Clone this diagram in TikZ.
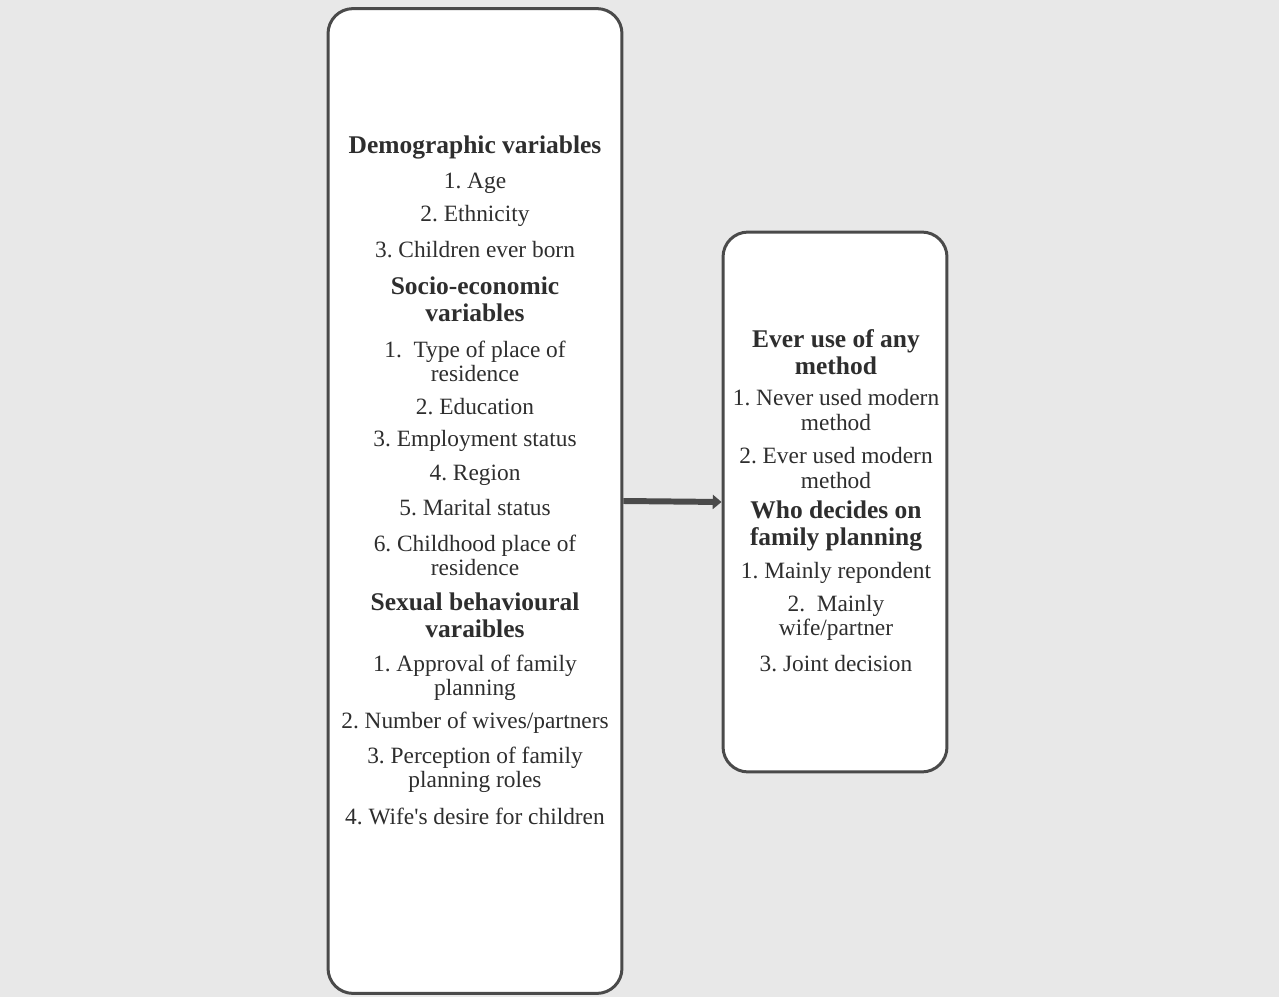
\documentclass[tikz,border=0pt]{standalone}
\usepackage{fontspec}
\setmainfont{Liberation Serif}
\usetikzlibrary{arrows.meta, positioning}
\definecolor{scan}{HTML}{E8E8E8}
\definecolor{ink}{HTML}{2E2E2E}
\definecolor{rim}{HTML}{4A4A4A}
\frenchspacing

\begin{document}
\begin{tikzpicture}[x=0.02cm, y=-0.02cm,
  frame/.style={draw=rim, line width=1.7pt, fill=white, rounded corners=0.5cm},
  head/.style={text=ink, align=center, font=\fontsize{14.5}{15.4}\selectfont\bfseries},
  item/.style={text=ink, align=center, font=\fontsize{13.3}{13.7}\selectfont}]
  \fill[scan] (0,0) rectangle (1279,997);
  \useasboundingbox (0,0) rectangle (1279,997);

  % the two boxes
  \node[frame, minimum width=5.88cm, minimum height=19.7cm] (predictors) at (475,501) {};
  \node[frame, minimum width=4.48cm, minimum height=10.8cm] (outcome) at (835,502) {};
  \draw[rim, line width=3.4pt, -{Triangle[length=5pt,width=8pt]}] (predictors.east) -- (outcome.west);

  % explanatory variables
  \node[head] (demohead) at (475,147) {Demographic variables};
  \node[item] (age) at (475,183) {1. Age};
  \node[item] (ethnic) at (475,216) {2. Ethnicity};
  \node[item] (ceb) at (475,250) {3. Children ever born};
  \node[head] (sochead) at (475,299) {Socio-economic\\variables};
  \node[item] (residence) at (475,361) {1.\ \ Type of place of\\residence};
  \node[item] (educ) at (475,407) {2. Education};
  \node[item] (employ) at (475,441) {3. Employment status};
  \node[item] (region) at (475,475) {4. Region};
  \node[item] (marital) at (475,508) {5. Marital status};
  \node[item] (childhood) at (475,555) {6. Childhood place of\\residence};
  \node[head] (sexhead) at (475,615) {Sexual behavioural\\varaibles};
  \node[item] (approval) at (475,678) {1. Approval of family\\planning};
  \node[item] (wives) at (475,723) {2. Number of wives/partners};
  \node[item] (perception) at (475,770) {3. Perception of family\\planning roles};
  \node[item] (desire) at (475,816) {4. Wife\textquotesingle s desire for children};

  % outcome variables
  \node[head] (usehead) at (836,352) {Ever use of any\\method};
  \node[item] (never) at (836,410) {1. Never used modern\\method};
  \node[item] (ever) at (836,468) {2. Ever used modern\\method};
  \node[head] (whohead) at (836,526) {Who decides on\\family planning};
  \node[item] (resp) at (836,573) {1. Mainly repondent};
  \node[item] (wife) at (836,618) {2.\ \ Mainly\\wife/partner};
  \node[item] (joint) at (836,664) {3. Joint decision};
\end{tikzpicture}
\end{document}
